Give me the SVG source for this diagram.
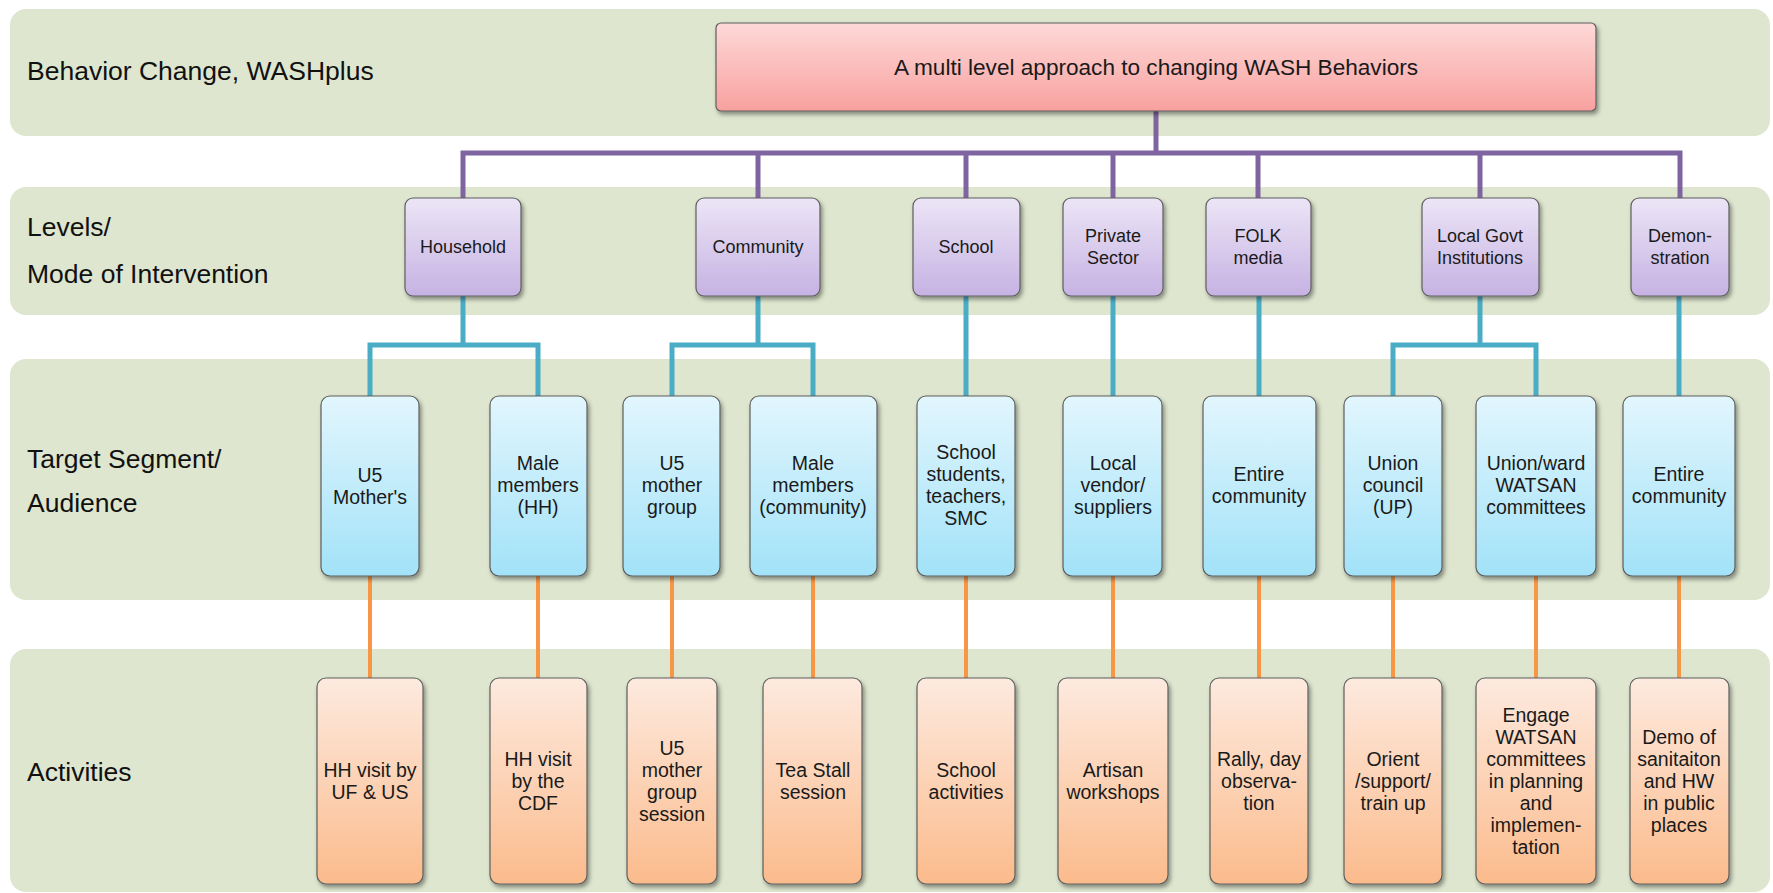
<svg xmlns="http://www.w3.org/2000/svg" width="1773" height="893" viewBox="0 0 1773 893">
<defs>
  <linearGradient id="gTop" x1="0" y1="0" x2="0" y2="1"><stop offset="0" stop-color="#fdd9d8"/><stop offset="1" stop-color="#f8a19f"/></linearGradient>
  <linearGradient id="gLvl" x1="0" y1="0" x2="0" y2="1"><stop offset="0" stop-color="#ece5f6"/><stop offset="1" stop-color="#c6b2e3"/></linearGradient>
  <linearGradient id="gTgt" x1="0" y1="0" x2="0" y2="1"><stop offset="0" stop-color="#e2f6fd"/><stop offset="1" stop-color="#a2e2f8"/></linearGradient>
  <linearGradient id="gAct" x1="0" y1="0" x2="0" y2="1"><stop offset="0" stop-color="#fdeadf"/><stop offset="1" stop-color="#fbbb8c"/></linearGradient>
  <filter id="sh" x="-20%" y="-20%" width="150%" height="150%"><feDropShadow dx="2" dy="3" stdDeviation="2" flood-color="#000" flood-opacity="0.4"/></filter>
</defs>
<style>
  .band{fill:#dee6cf}
  .box{stroke:#5e5e5e;stroke-width:1.2;filter:url(#sh)}
  .lbl{font-family:"Liberation Sans",Arial,sans-serif;font-size:26.5px;fill:#111}
  .t{font-family:"Liberation Sans",Arial,sans-serif;font-size:19.5px;fill:#1a1a1a;text-anchor:middle}
  .tl{font-family:"Liberation Sans",Arial,sans-serif;font-size:18px;fill:#1a1a1a;text-anchor:middle}
  .pc{stroke:#8064a2;stroke-width:5;fill:none}
  .tc{stroke:#4bacc6;stroke-width:5;fill:none}
  .oc{stroke:#f79646;stroke-width:4;fill:none}
</style>
<rect width="1773" height="893" fill="#ffffff"/>
<g id="bands">
  <rect class="band" x="10" y="9" width="1760" height="127" rx="16"/>
  <rect class="band" x="10" y="187" width="1760" height="128" rx="16"/>
  <rect class="band" x="10" y="359" width="1760" height="241" rx="16"/>
  <rect class="band" x="10" y="649" width="1760" height="243" rx="16"/>
</g>
<g id="labels">
  <text class="lbl" x="27" y="80">Behavior Change, WASHplus</text>
  <text class="lbl" x="27" y="236">Levels/</text>
  <text class="lbl" x="27" y="283">Mode of Intervention</text>
  <text class="lbl" x="27" y="468">Target Segment/</text>
  <text class="lbl" x="27" y="512">Audience</text>
  <text class="lbl" x="27" y="781">Activities</text>
</g>
<g id="connectors">
  <path class="pc" d="M1156 111 V153 M463 198 V153 H1680 V198 M758 153 V198 M966 153 V198 M1113 153 V198 M1258 153 V198 M1480 153 V198"/>
  <path class="tc" d="M463 296 V345 M370 396 V345 H538 V396 M758 296 V345 M672 396 V345 H813 V396 M966 296 V396 M1113 296 V396 M1259 296 V396 M1480 296 V345 M1393 396 V345 H1536 V396 M1679 296 V396"/>
  <path class="oc" d="M370 576 V678 M538 576 V678 M672 576 V678 M813 576 V678 M966 576 V678 M1113 576 V678 M1259 576 V678 M1393 576 V678 M1536 576 V678 M1679 576 V678"/>
</g>
<g id="top">
  <rect class="box" x="716" y="23" width="880" height="88" rx="5" fill="url(#gTop)"/>
  <text x="1156" y="75" font-family="Liberation Sans, Arial, sans-serif" font-size="22.6" fill="#1a1a1a" text-anchor="middle">A multi level approach to changing WASH Behaviors</text>
</g>
<g id="lvl-household"><rect class="box" x="405" y="198" width="116" height="98" rx="8" fill="url(#gLvl)"/><text class="tl" x="463" y="253">Household</text></g>
<g id="lvl-community"><rect class="box" x="696" y="198" width="124" height="98" rx="8" fill="url(#gLvl)"/><text class="tl" x="758" y="253">Community</text></g>
<g id="lvl-school"><rect class="box" x="913" y="198" width="107" height="98" rx="8" fill="url(#gLvl)"/><text class="tl" x="966" y="253">School</text></g>
<g id="lvl-private"><rect class="box" x="1063" y="198" width="100" height="98" rx="8" fill="url(#gLvl)"/><text class="tl" x="1113" y="242">Private<tspan x="1113" dy="22">Sector</tspan></text></g>
<g id="lvl-folk"><rect class="box" x="1206" y="198" width="105" height="98" rx="8" fill="url(#gLvl)"/><text class="tl" x="1258" y="242">FOLK<tspan x="1258" dy="22">media</tspan></text></g>
<g id="lvl-lgi"><rect class="box" x="1422" y="198" width="117" height="98" rx="8" fill="url(#gLvl)"/><text class="tl" x="1480" y="242">Local Govt<tspan x="1480" dy="22">Institutions</tspan></text></g>
<g id="lvl-demo"><rect class="box" x="1631" y="198" width="98" height="98" rx="8" fill="url(#gLvl)"/><text class="tl" x="1680" y="242">Demon-<tspan x="1680" dy="22">stration</tspan></text></g>

<g id="tgt-u5mothers"><rect class="box" x="321" y="396" width="98" height="180" rx="9" fill="url(#gTgt)"/><text class="t" x="370" y="482">U5<tspan x="370" dy="22">Mother's</tspan></text></g>
<g id="tgt-malehh"><rect class="box" x="490" y="396" width="97" height="180" rx="9" fill="url(#gTgt)"/><text class="t" x="538" y="470">Male<tspan x="538" dy="22">members</tspan><tspan x="538" dy="22">(HH)</tspan></text></g>
<g id="tgt-u5group"><rect class="box" x="623" y="396" width="97" height="180" rx="9" fill="url(#gTgt)"/><text class="t" x="672" y="470">U5<tspan x="672" dy="22">mother</tspan><tspan x="672" dy="22">group</tspan></text></g>
<g id="tgt-malecomm"><rect class="box" x="750" y="396" width="127" height="180" rx="9" fill="url(#gTgt)"/><text class="t" x="813" y="470">Male<tspan x="813" dy="22">members</tspan><tspan x="813" dy="22">(community)</tspan></text></g>
<g id="tgt-school"><rect class="box" x="917" y="396" width="98" height="180" rx="9" fill="url(#gTgt)"/><text class="t" x="966" y="459">School<tspan x="966" dy="22">students,</tspan><tspan x="966" dy="22">teachers,</tspan><tspan x="966" dy="22">SMC</tspan></text></g>
<g id="tgt-vendor"><rect class="box" x="1063" y="396" width="99" height="180" rx="9" fill="url(#gTgt)"/><text class="t" x="1113" y="470">Local<tspan x="1113" dy="22">vendor/</tspan><tspan x="1113" dy="22">suppliers</tspan></text></g>
<g id="tgt-entire1"><rect class="box" x="1203" y="396" width="113" height="180" rx="9" fill="url(#gTgt)"/><text class="t" x="1259" y="481">Entire<tspan x="1259" dy="22">community</tspan></text></g>
<g id="tgt-union"><rect class="box" x="1344" y="396" width="98" height="180" rx="9" fill="url(#gTgt)"/><text class="t" x="1393" y="470">Union<tspan x="1393" dy="22">council</tspan><tspan x="1393" dy="22">(UP)</tspan></text></g>
<g id="tgt-watsan"><rect class="box" x="1476" y="396" width="120" height="180" rx="9" fill="url(#gTgt)"/><text class="t" x="1536" y="470">Union/ward<tspan x="1536" dy="22">WATSAN</tspan><tspan x="1536" dy="22">committees</tspan></text></g>
<g id="tgt-entire2"><rect class="box" x="1623" y="396" width="112" height="180" rx="9" fill="url(#gTgt)"/><text class="t" x="1679" y="481">Entire<tspan x="1679" dy="22">community</tspan></text></g>

<g id="act-hhvisit"><rect class="box" x="317" y="678" width="106" height="206" rx="9" fill="url(#gAct)"/><text class="t" x="370" y="777">HH visit by<tspan x="370" dy="22">UF &amp; US</tspan></text></g>
<g id="act-cdf"><rect class="box" x="490" y="678" width="97" height="206" rx="9" fill="url(#gAct)"/><text class="t" x="538" y="766">HH visit<tspan x="538" dy="22">by the</tspan><tspan x="538" dy="22">CDF</tspan></text></g>
<g id="act-u5session"><rect class="box" x="627" y="678" width="90" height="206" rx="9" fill="url(#gAct)"/><text class="t" x="672" y="755">U5<tspan x="672" dy="22">mother</tspan><tspan x="672" dy="22">group</tspan><tspan x="672" dy="22">session</tspan></text></g>
<g id="act-teastall"><rect class="box" x="763" y="678" width="99" height="206" rx="9" fill="url(#gAct)"/><text class="t" x="813" y="777">Tea Stall<tspan x="813" dy="22">session</tspan></text></g>
<g id="act-school"><rect class="box" x="917" y="678" width="98" height="206" rx="9" fill="url(#gAct)"/><text class="t" x="966" y="777">School<tspan x="966" dy="22">activities</tspan></text></g>
<g id="act-artisan"><rect class="box" x="1058" y="678" width="110" height="206" rx="9" fill="url(#gAct)"/><text class="t" x="1113" y="777">Artisan<tspan x="1113" dy="22">workshops</tspan></text></g>
<g id="act-rally"><rect class="box" x="1210" y="678" width="98" height="206" rx="9" fill="url(#gAct)"/><text class="t" x="1259" y="766">Rally, day<tspan x="1259" dy="22">observa-</tspan><tspan x="1259" dy="22">tion</tspan></text></g>
<g id="act-orient"><rect class="box" x="1344" y="678" width="98" height="206" rx="9" fill="url(#gAct)"/><text class="t" x="1393" y="766">Orient<tspan x="1393" dy="22">/support/</tspan><tspan x="1393" dy="22">train up</tspan></text></g>
<g id="act-engage"><rect class="box" x="1476" y="678" width="120" height="206" rx="9" fill="url(#gAct)"/><text class="t" x="1536" y="722">Engage<tspan x="1536" dy="22">WATSAN</tspan><tspan x="1536" dy="22">committees</tspan><tspan x="1536" dy="22">in planning</tspan><tspan x="1536" dy="22">and</tspan><tspan x="1536" dy="22">implemen-</tspan><tspan x="1536" dy="22">tation</tspan></text></g>
<g id="act-demo"><rect class="box" x="1630" y="678" width="99" height="206" rx="9" fill="url(#gAct)"/><text class="t" x="1679" y="744">Demo of<tspan x="1679" dy="22">sanitaiton</tspan><tspan x="1679" dy="22">and HW</tspan><tspan x="1679" dy="22">in public</tspan><tspan x="1679" dy="22">places</tspan></text></g>
</svg>
